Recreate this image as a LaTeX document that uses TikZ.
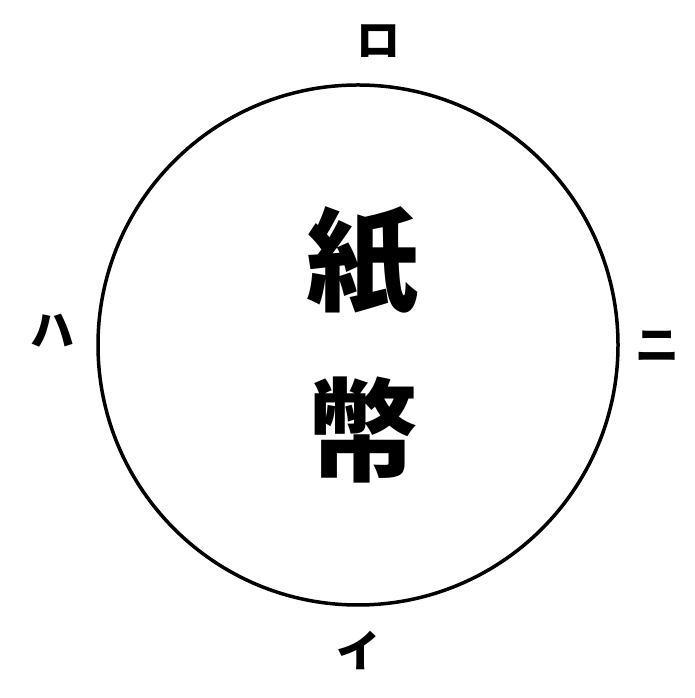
\documentclass[tikz,border=0pt]{standalone}
\usepackage{fontspec}
\newfontfamily\cjk{Noto Sans CJK JP}
\begin{document}
\begin{tikzpicture}[x=1pt,y=1pt,
  lbl/.style={font=\cjk\fontsize{44}{44}\selectfont\bfseries, inner sep=0pt},
  big/.style={font=\cjk\fontsize{112}{112}\selectfont\bfseries, inner sep=0pt}]
\fill[white] (0,0) rectangle (695,698);
\useasboundingbox (0,0) rectangle (695,698);
\node[circle, draw, line width=3.5pt, minimum size=520pt, inner sep=0pt] (c) at (358,353) {};
\node[big] (shi) at (362,436) {紙};
\node[big] (hei) at (362,268) {幣};
\node[lbl] (ro) at (378,657) {ロ};
\node[lbl] (ha) at (52,367) {ハ};
\node[lbl] (ni) at (657,352) {ニ};
\node[lbl] (i) at (358,48) {イ};
\end{tikzpicture}
\end{document}
